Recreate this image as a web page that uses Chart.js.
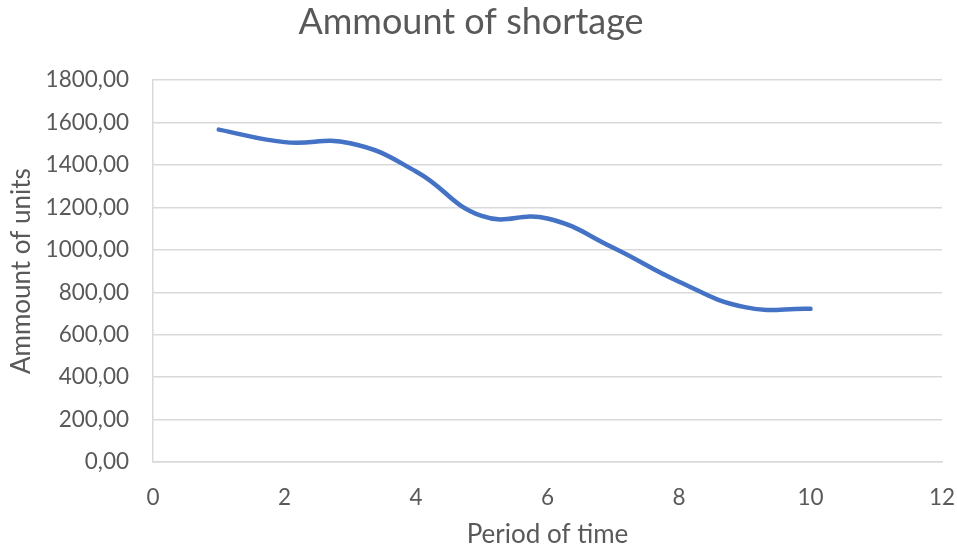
<!DOCTYPE html>
<html>
<head>
<meta charset="utf-8">
<script src="https://cdn.jsdelivr.net/npm/chart.js@4/dist/chart.umd.min.js"></script>
<style>
  html, body { margin: 0; padding: 0; background: #ffffff; }
  #wrap { width: 957px; height: 550px; }
</style>
</head>
<body>
<div id="wrap"><canvas id="c" width="957" height="550"></canvas></div>
<script>
const periods = [1, 2, 3, 4, 5, 6, 7, 8, 9, 10];
const shortage = [1567, 1508, 1503, 1370, 1160, 1148, 1010, 850, 730, 722];
const chartTitle = 'Ammount of shortage';
const xTitle = 'Period of time';
const yTitle = 'Ammount of units';

const textColor = '#595959';
const gridColor = '#d9d9d9';
const fontFamily = 'Lato, "Open Sans", sans-serif';

const points = periods.map((p, i) => ({ x: p, y: shortage[i] }));

new Chart(document.getElementById('c'), {
  type: 'line',
  data: {
    datasets: [{
      data: points,
      borderColor: '#4472C4',
      borderWidth: 4.5,
      borderCapStyle: 'round',
      pointRadius: 0,
      tension: 0.45,
      fill: false
    }]
  },
  options: {
    responsive: false,
    animation: false,
    layout: { padding: { left: 0, right: 15, top: 0, bottom: 0 } },
    plugins: {
      legend: { display: false },
      tooltip: { enabled: false },
      title: {
        display: true,
        text: chartTitle,
        color: textColor,
        font: { family: fontFamily, size: 36, weight: 'normal', lineHeight: 1.2 },
        padding: { top: 1, bottom: 36 }
      }
    },
    scales: {
      x: {
        type: 'linear',
        min: 0,
        max: 12,
        ticks: {
          stepSize: 2,
          color: textColor,
          padding: 22,
          font: { family: fontFamily, size: 22.5 }
        },
        grid: { display: false, drawTicks: false },
        border: { display: true, color: gridColor, width: 1.5 },
        title: {
          display: true,
          text: xTitle,
          color: textColor,
          font: { family: fontFamily, size: 26 },
          padding: { top: 0, bottom: 0 }
        },
        afterFit: (s) => { s.height = 88; s.paddingLeft = 0; s.paddingRight = 0; }
      },
      y: {
        min: 0,
        max: 1800,
        ticks: {
          stepSize: 200,
          color: textColor,
          padding: 24,
          font: { family: fontFamily, size: 22.5 },
          callback: (v) => v.toFixed(2).replace('.', ',')
        },
        grid: { color: gridColor, lineWidth: 1.5, drawTicks: false },
        border: { display: true, color: gridColor, width: 1.5 },
        title: {
          display: true,
          text: yTitle,
          color: textColor,
          font: { family: fontFamily, size: 26 },
          padding: { top: 6, bottom: 0 }
        },
        afterFit: (s) => { s.width = 153; s.paddingTop = 0; s.paddingBottom = 0; }
      }
    }
  }
});
</script>
</body>
</html>
